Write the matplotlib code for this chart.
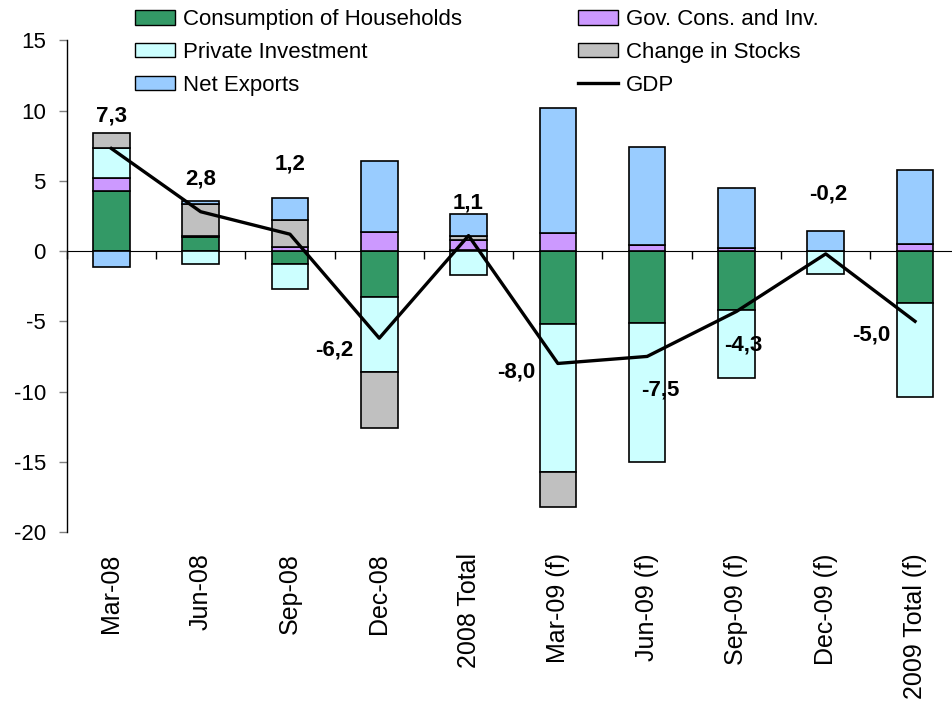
import numpy as np
import matplotlib
matplotlib.use("Agg")
import matplotlib.pyplot as plt
from matplotlib.patches import Patch
from matplotlib.lines import Line2D
from matplotlib import transforms

plt.rcParams['font.family'] = ['Liberation Sans', 'DejaVu Sans']
plt.rcParams['axes.unicode_minus'] = False

# quarterly contributions to GDP growth (percentage points)
periods = ['Mar-08', 'Jun-08', 'Sep-08', 'Dec-08', '2008 Total',
           'Mar-09 (f)', 'Jun-09 (f)', 'Sep-09 (f)', 'Dec-09 (f)', '2009 Total (f)']
households = [4.3, 1.0, -0.9, -3.3, 0.1, -5.2, -5.1, -4.2, 0.0, -3.7]
government = [0.9, 0.05, 0.3, 1.35, 0.7, 1.25, 0.4, 0.25, 0.0, 0.5]
private_inv = [2.1, -0.9, -1.8, -5.3, -1.7, -10.5, -9.9, -4.85, -1.6, -6.7]
stocks = [1.1, 2.3, 1.9, -4.0, 0.25, -2.55, 0.0, 0.0, 0.0, 0.0]
net_exports = [-1.1, 0.2, 1.6, 5.05, 1.6, 8.9, 7.0, 4.25, 1.4, 5.3]
gdp = [7.3, 2.8, 1.2, -6.2, 1.1, -8.0, -7.5, -4.3, -0.2, -5.0]

series = [
    ('Consumption of Households', households, '#339966'),
    ('Gov. Cons. and Inv.', government, '#CC99FF'),
    ('Private Investment', private_inv, '#CCFFFF'),
    ('Change in Stocks', stocks, '#C0C0C0'),
    ('Net Exports', net_exports, '#99CCFF'),
]

# where each GDP label sits relative to its point
label_dx = [0, 0, 0, -0.5, 0, -0.47, 0.15, 0.08, 0.03, -0.49]
label_dy = [2.3, 2.3, 5.0, -0.87, 2.34, -0.6, -2.4, -2.4, 4.28, -1.0]

fig = plt.figure(figsize=(9.53, 7.01), dpi=100)
ax = fig.add_axes([0.070, 0.241, 0.937, 0.7015])

x = np.arange(len(periods))
pos_base = np.zeros(len(periods))
neg_base = np.zeros(len(periods))
for name, vals, col in series:
    v = np.array(vals, dtype=float)
    base = np.where(v >= 0, pos_base, neg_base)
    ax.bar(x, v, width=0.41, bottom=base, color=col, edgecolor='black',
           linewidth=1.2, zorder=2)
    pos_base += np.where(v >= 0, v, 0)
    neg_base += np.where(v < 0, v, 0)

ax.plot(x, gdp, color='black', linewidth=2.4, zorder=3)

for i, g in enumerate(gdp):
    ax.text(i + label_dx[i], g + label_dy[i], f"{g:.1f}".replace('.', ','),
            ha='center', va='center', fontsize=16, fontweight='bold', zorder=4)

ax.set_xlim(-0.5, len(periods) - 0.5)
ax.set_ylim(-20, 15)
ax.set_yticks(np.arange(-20, 16, 5))
ax.tick_params(axis='y', direction='out', length=6, width=1, labelsize=16,
               color='#808080', pad=9)

ax.spines['top'].set_visible(False)
ax.spines['right'].set_visible(False)
ax.spines['bottom'].set_position(('data', 0))
ax.spines['bottom'].set_zorder(1)
ax.spines['left'].set_linewidth(1)

ax.set_xticks(np.arange(-0.5, len(periods), 1))
ax.set_xticklabels([])
ax.tick_params(axis='x', direction='out', length=6, width=1)

# category labels sit under the plot, not on the zero axis
trans = transforms.blended_transform_factory(ax.transData, ax.transAxes)
for i, p in enumerate(periods):
    ax.text(i, -0.043, p, transform=trans, rotation=90, ha='center', va='top',
            fontsize=18)

handles = [
    Patch(facecolor='#339966', edgecolor='black', label='Consumption of Households'),
    Patch(facecolor='#CCFFFF', edgecolor='black', label='Private Investment'),
    Patch(facecolor='#99CCFF', edgecolor='black', label='Net Exports'),
    Patch(facecolor='#CC99FF', edgecolor='black', label='Gov. Cons. and Inv.'),
    Patch(facecolor='#C0C0C0', edgecolor='black', label='Change in Stocks'),
    Line2D([0], [0], color='black', linewidth=2.4, label='GDP'),
]
fig.legend(handles=handles, ncol=2, loc='upper left',
           bbox_to_anchor=(0.1417, 0.987), frameon=False, fontsize=16,
           handlelength=1.8, handleheight=0.64, handletextpad=0.36,
           columnspacing=5.2, labelspacing=0.53, borderpad=0, borderaxespad=0)

fig.savefig('out.png', dpi=100)
